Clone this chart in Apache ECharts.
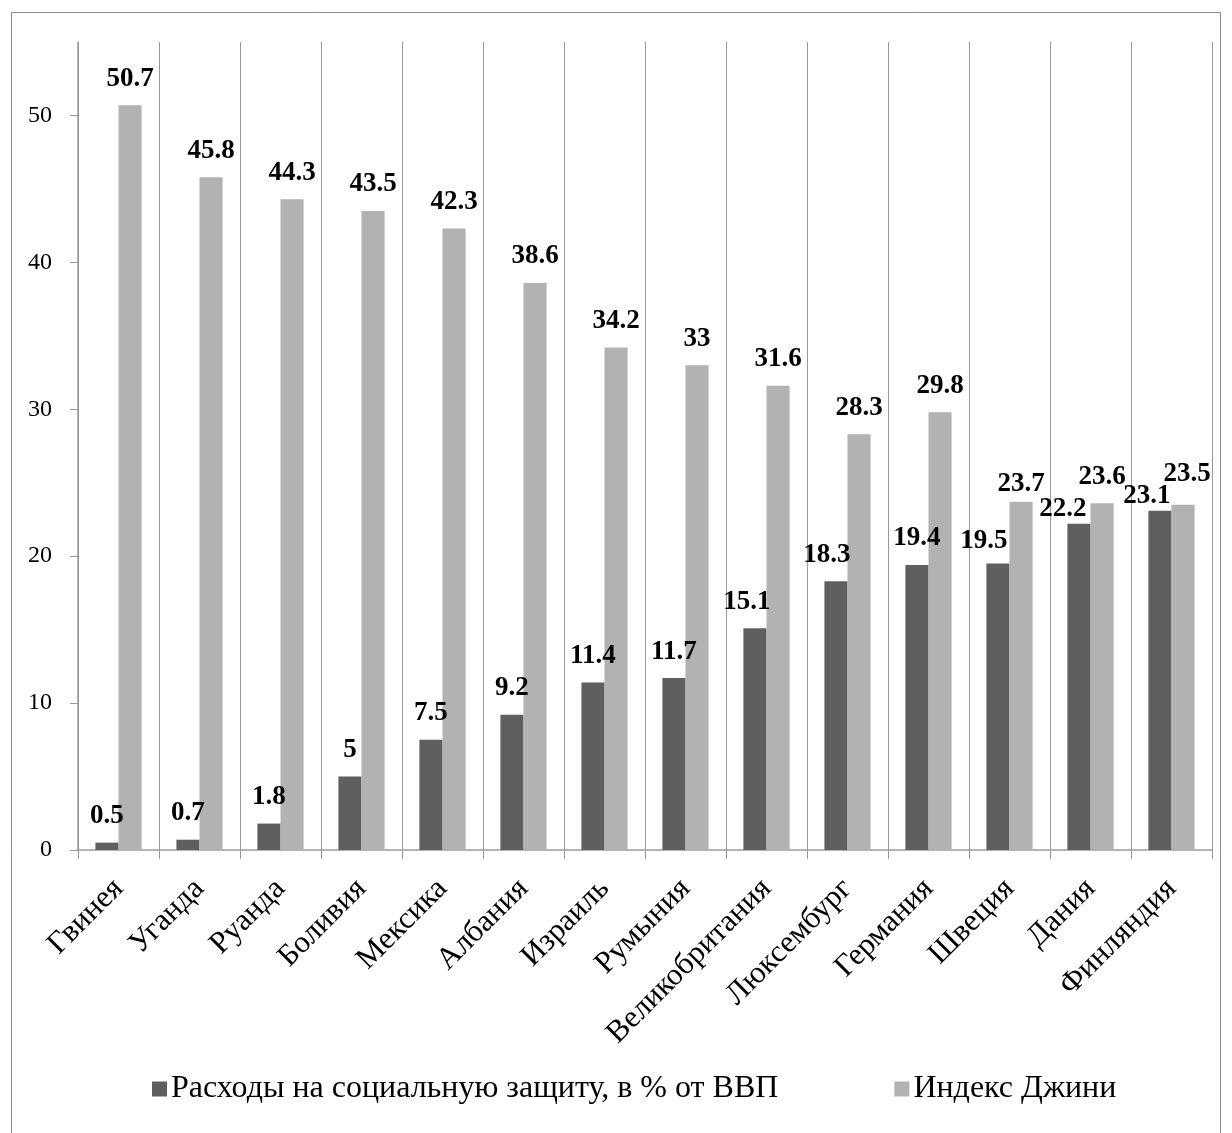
<!DOCTYPE html>
<html>
<head>
<meta charset="utf-8">
<script src="https://cdn.jsdelivr.net/npm/echarts@6/dist/echarts.min.js"></script>
<style>
html,body{margin:0;padding:0;background:#fff;}
#c{width:1232px;height:1133px;}
</style>
</head>
<body>
<div id="c"></div>
<script>
const categories = ['Гвинея','Уганда','Руанда','Боливия','Мексика','Албания','Израиль','Румыния','Великобритания','Люксембург','Германия','Швеция','Дания','Финляндия'];
const socialSpending = [0.5,0.7,1.8,5,7.5,9.2,11.4,11.7,15.1,18.3,19.4,19.5,22.2,23.1];
const giniIndex = [50.7,45.8,44.3,43.5,42.3,38.6,34.2,33,31.6,28.3,29.8,23.7,23.6,23.5];
const seriesNames = ['Расходы на социальную защиту, в % от ВВП','Индекс Джини'];
const yTicks = [0,10,20,30,40,50];

// label nudges (styling only), to mimic overlap avoidance in the original
const darkLabelShiftX = [0,0,0,0,0,0,0,0,-8,-9,0,-14,-16,-13];
const darkLabelShiftY = [0,0,0,0,0,0,0,0,0,0,0,4,12,12];
const lightLabelShiftX = [0,0,0,0,0,0,0,0,0,0,0,0,0,4];
const lightLabelShiftY = [0,0,0,0,0,0,0,0,0,0,0,9,0,-4];

const font = '"Liberation Serif", "Times New Roman", serif';
const chart = echarts.init(document.getElementById('c'));
const labelCfg = {show:true, position:'top', distance:13, fontFamily:font, fontWeight:'bold', fontSize:27, color:'#000'};
chart.setOption({
  animation:false,
  graphic:[{type:'rect', shape:{x:11.5,y:12.5,width:1209,height:1130}, style:{fill:'none', stroke:'#888', lineWidth:1}, silent:true}],
  grid:{left:78, right:20, top:42, bottom:283, containLabel:false},
  legend:{
    top:1068, left:147,
    itemWidth:15, itemHeight:15, itemGap:116,
    icon:'rect',
    textStyle:{fontFamily:font, fontSize:32, color:'#000', padding:[0,0,0,-1]},
    data:seriesNames
  },
  xAxis:{
    type:'category', data:categories,
    axisLine:{lineStyle:{color:'#999', width:1.5}},
    axisTick:{show:true, length:9, lineStyle:{color:'#999'}},
    splitLine:{show:true, lineStyle:{color:'#999', width:1}},
    axisLabel:{rotate:45, interval:0, fontFamily:font, fontSize:31, color:'#000', margin:34}
  },
  yAxis:{
    type:'value', min:0, max:55, interval:10,
    axisLine:{show:true, lineStyle:{color:'#999', width:1.5}},
    axisTick:{show:true, length:8, lineStyle:{color:'#999'}, customValues:yTicks},
    splitLine:{show:false},
    axisLabel:{fontFamily:font, fontSize:24, color:'#000', margin:26, customValues:yTicks}
  },
  series:[
    {name:seriesNames[0], type:'bar', barGap:'0%', barCategoryGap:'43%',
     data:socialSpending.map((v,i)=>({value:v, label:{offset:[darkLabelShiftX[i],darkLabelShiftY[i]]}})),
     itemStyle:{color:'#5f5f5f'}, label:labelCfg},
    {name:seriesNames[1], type:'bar',
     data:giniIndex.map((v,i)=>({value:v, label:{offset:[lightLabelShiftX[i],lightLabelShiftY[i]]}})),
     itemStyle:{color:'#b2b2b2'}, label:labelCfg}
  ]
});
</script>
</body>
</html>
